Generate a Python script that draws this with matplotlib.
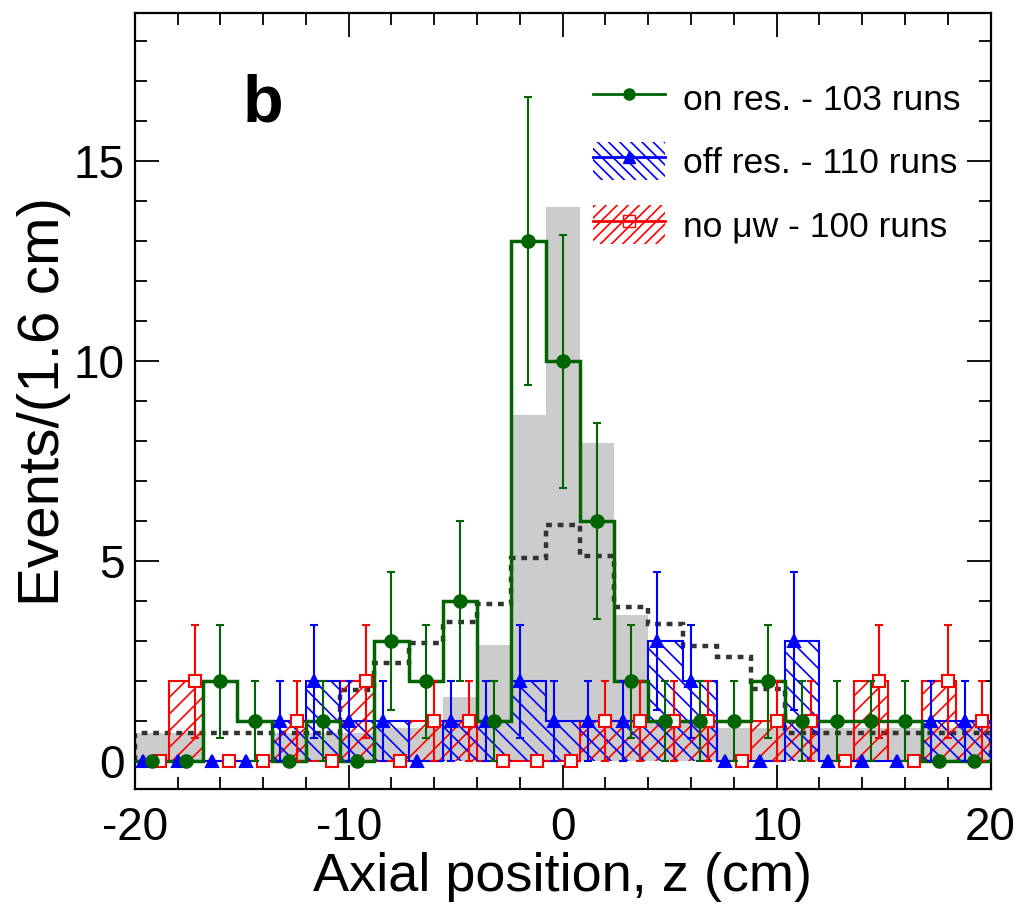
import numpy as np
import matplotlib
matplotlib.use("Agg")
import matplotlib.pyplot as plt
from matplotlib.patches import Patch
from matplotlib.lines import Line2D
from matplotlib.ticker import MultipleLocator

plt.rcParams['font.family'] = ['Liberation Sans', 'DejaVu Sans']
plt.rcParams['hatch.linewidth'] = 1.2
plt.rcParams['axes.unicode_minus'] = False

# bins of 1.6 cm from -20 to 20
edges = np.linspace(-20, 20, 26)
centers = 0.5 * (edges[:-1] + edges[1:])

on_res = [0, 0, 2, 1, 0, 1, 0, 3, 2, 4, 1, 13, 10, 6, 2, 1, 1, 1, 2, 1, 1, 1, 1, 0, 0]
off_res = [0, 0, 0, 0, 1, 2, 1, 1, 0, 1, 1, 2, 1, 1, 1, 3, 2, 0, 0, 3, 0, 0, 0, 1, 1]
no_mw = [0, 2, 0, 0, 1, 0, 2, 0, 1, 1, 0, 0, 0, 1, 1, 1, 1, 0, 1, 1, 0, 2, 0, 2, 1]
sim_fill = [0.7, 0.7, 0, 0, 0.7, 0.7, 0.7, 0.82, 0.82, 1.6, 2.9, 8.65, 13.85, 7.95,
            3.64, 1.0, 1.0, 0.83, 0.83, 0.83, 0.83, 0.83, 0.83, 0.83, 0.83]
sim_dash = [0.7, 0.7, 0.7, 0.7, 0.7, 0.7, 1.77, 2.44, 2.94, 3.47, 3.92, 5.07, 5.9, 5.14,
            3.85, 3.42, 2.87, 2.59, 1.79, 0.7, 0.7, 0.7, 0.7, 0.7, 0.7]

labels = ["on res. - 103 runs", "off res. - 110 runs", "no \u03bcw - 100 runs"]

green = '#006400'
blue = '#0000ff'
red = '#ff0000'

fig = plt.figure(figsize=(10.19, 9.06), dpi=100)
ax = fig.add_axes([0.1322, 0.1291, 0.84, 0.8562])

ax.stairs(sim_fill, edges, fill=True, color='#cccccc', lw=0, zorder=1)
ax.stairs(sim_dash, edges, color='#333333', lw=3.2, linestyle=(0, (1.3, 1.3)), zorder=2)

ax.stairs(no_mw, edges, fill=True, facecolor='none', edgecolor=red, hatch='//', lw=1.5, zorder=3)
ax.stairs(off_res, edges, fill=True, facecolor='none', edgecolor=blue, hatch='\\\\', lw=1.5, zorder=4)
ax.stairs(on_res, edges, color=green, lw=2.5, zorder=5)


def points(vals, shift, color, marker, mfc, ms, z):
    y = np.array(vals, dtype=float)
    x = centers + shift
    nz = y > 0
    ax.errorbar(x[nz], y[nz], yerr=np.sqrt(y[nz]), fmt='none', ecolor=color,
                elinewidth=1.5, capsize=3, capthick=1.5, zorder=z)
    ax.plot(x, y, ls='none', marker=marker, color=color, mfc=mfc, mec=color,
            mew=1.5, ms=ms, zorder=z + 0.5)


points(no_mw, 0.4, red, 's', 'white', 8.5, 6)
points(off_res, -0.4, blue, '^', blue, 9, 7)
points(on_res, 0.0, green, 'o', green, 9, 8)

ax.set_xlim(-20, 20)
ax.set_ylim(-0.7, 18.7)
ax.xaxis.set_major_locator(MultipleLocator(10))
ax.xaxis.set_minor_locator(MultipleLocator(2))
ax.yaxis.set_major_locator(MultipleLocator(5))
ax.yaxis.set_minor_locator(MultipleLocator(1))
ax.tick_params(which='both', direction='in', top=True, right=True, width=1.3)
ax.tick_params(which='major', length=17)
ax.tick_params(which='minor', length=8.6)
ax.tick_params(axis='y', labelsize=33, pad=7)
ax.tick_params(axis='x', labelsize=33, pad=12)
for s in ax.spines.values():
    s.set_linewidth(1.6)

ax.set_xlabel("Axial position, z (cm)", fontsize=39, labelpad=2)
ax.set_ylabel("Events/(1.6 cm)", fontsize=42, labelpad=2)

ax.text(-14.0, 16.0, 'b', fontsize=48, fontweight='bold', ha='center', va='baseline')

h_on = Line2D([], [], color=green, lw=2, marker='o', ms=8)
h_off = (Patch(facecolor='none', edgecolor=blue, hatch='\\\\\\', lw=0),
         Line2D([], [], color=blue, lw=2, marker='^', ms=8))
h_no = (Patch(facecolor='none', edgecolor=red, hatch='///', lw=0),
        Line2D([], [], color=red, lw=2, marker='s', ms=8, mfc='none'))
ax.legend([h_on, h_off, h_no], labels, loc='upper left', bbox_to_anchor=(0.535, 0.916),
          frameon=False, fontsize=25.5, handlelength=2.05, handleheight=1.3,
          handletextpad=0.5, labelspacing=0.7, borderpad=0, borderaxespad=0)

fig.savefig("out.png", dpi=100)
